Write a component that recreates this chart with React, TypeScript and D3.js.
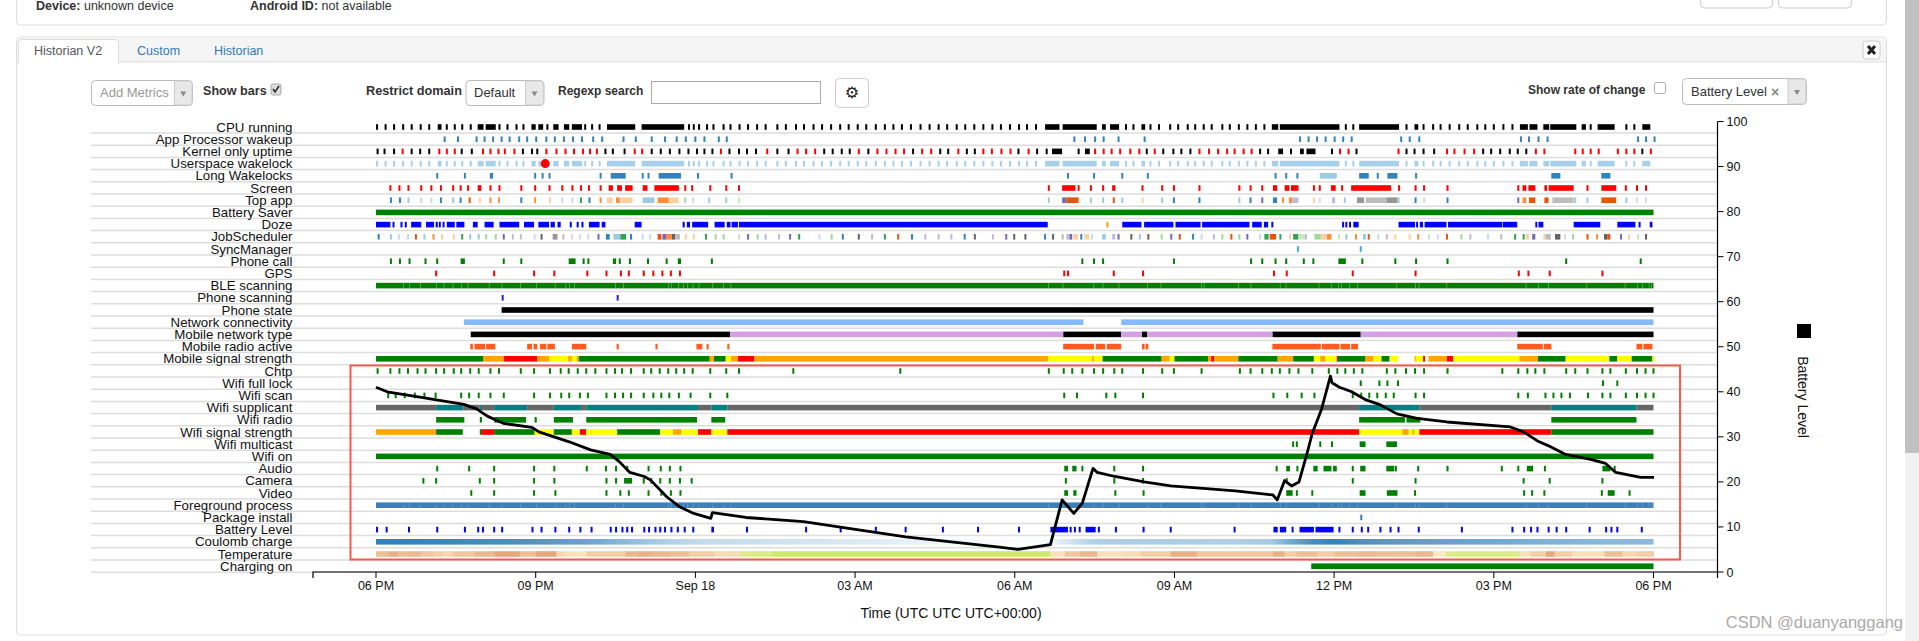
import React from "react";
import * as d3 from "d3";

type Span = [number, number];
type Mixed = [number, string] | [number, number, string];

const rowNames = ["CPU running","App Processor wakeup","Kernel only uptime","Userspace wakelock","Long Wakelocks","Screen","Top app","Battery Saver","Doze","JobScheduler","SyncManager","Phone call","GPS","BLE scanning","Phone scanning","Phone state","Network connectivity","Mobile network type","Mobile radio active","Mobile signal strength","Chtp","Wifi full lock","Wifi scan","Wifi supplicant","Wifi radio","Wifi signal strength","Wifi multicast","Wifi on","Audio","Camera","Video","Foreground process","Package install","Battery Level","Coulomb charge","Temperature","Charging on"];

const axisHours = [0,3,6,9,12,15,18,21,24];
const axisLabels = ["06 PM","09 PM","Sep 18","03 AM","06 AM","09 AM","12 PM","03 PM","06 PM"];
const batteryTicks = [0,10,20,30,40,50,60,70,80,90,100];

const batteryLevel: [number, number][] = [[0,41],[.21,40],[.88,38.7],[1.65,37.2],[1.89,36.2],[2.09,34.6],[2.39,33],[2.93,32.1],[3.06,31.1],[3.63,28.9],[4.03,27.1],[4.4,26.1],[4.57,24.5],[4.77,22.1],[5.04,21.2],[5.16,20.4],[5.46,16.7],[5.7,14.5],[5.97,13],[6.29,11.9],[6.32,13.2],[6.95,12.1],[8.03,11.2],[9.95,7.8],[11.71,5.5],[12.06,5],[12.67,6.1],[12.89,16],[13.11,13],[13.27,15.3],[13.47,23],[13.55,22.1],[13.88,21.2],[14.43,20],[14.93,19.1],[16.14,18],[16.85,17.1],[16.93,16],[17.07,20.3],[17.2,19.1],[17.34,20],[17.49,26.3],[17.59,30.8],[17.76,36],[17.93,43.5],[17.96,42],[18.1,41],[18.33,40],[18.6,38.2],[18.87,37.1],[19.18,35.1],[19.56,34.1],[20.12,33.3],[21.31,32.2],[21.56,31.1],[21.82,29.1],[22.03,28],[22.35,26.1],[22.82,25],[23.1,24.1],[23.29,22.1],[23.76,21],[24.01,21]];

const cpuTicks = [.02,.18,.34,.51,.67,.84,1,1.33,1.48,1.62,1.78,2.32,2.47,2.64,2.77,3.22,3.93,4.06,4.2,5.88,5.97,6.07,6.22,6.34,6.53,6.66,6.83,6.99,7.16,7.32,7.54,7.7,7.89,8.04,8.22,8.38,8.55,8.72,8.88,9.05,9.21,9.39,9.56,9.72,9.88,10.05,10.23,10.4,10.57,10.73,10.91,11.07,11.24,11.41,11.58,11.74,11.91,12.08,12.23,12.4,14.09,14.23,14.55,14.71,14.92,15.07,15.25,15.39,15.55,15.7,15.9,16.04,16.21,16.37,16.53,16.69,18.22,18.36,19.36,19.68,19.86,20,20.17,20.35,20.51,20.69,20.84,21,21.18,21.35,22.82,23.49,23.64];
const cpuBars: Span[] = [[1.16,1.23],[1.91,2.02],[2.06,2.25],[2.92,3],[3.05,3.14],[3.33,3.43],[3.53,3.63],[3.68,3.87],[4.34,4.87],[4.99,5.79],[12.57,12.84],[12.9,13.54],[13.64,13.71],[13.79,13.96],[14.38,14.45],[16.83,16.95],[16.98,18.1],[18.47,19.22],[19.51,19.58],[21.49,21.64],[21.67,21.82],[21.93,22.04],[22.06,22.55],[22.65,22.73],[22.95,23.27],[23.79,23.94]];

const appWakeup = [1.29,1.54,1.89,2.04,2.2,2.36,2.51,2.69,2.84,3.01,3.2,3.36,3.53,3.7,3.87,4.08,4.25,4.65,4.88,5.18,5.43,5.65,5.82,6,6.17,6.44,6.59,13.12,13.32,13.51,13.67,13.95,14.44,17.36,17.52,17.68,17.84,18.01,18.17,18.33,19.26,19.42,19.6,21.51,21.66,21.84,22.01,23.71,23.86,24.02];

const kernelBlack = [.03,.16,.34,.67,.83,1,1.61,1.8,2.76,2.93,3.03,4.31,4.45,4.67,5.18,5.35,5.52,5.7,5.87,6.03,6.17,6.32,6.64,6.82,6.97,7.14,7.54,7.75,8.42,8.58,8.75,8.9,9.25,10.09,10.6,10.75,11.1,11.25,12.07,12.42,12.6,13.2,14.48,14.79,14.98,15.13,15.3,16.61,16.76,17.19,17.96,18.42,19.36,19.51,19.68,19.88,20.8,20.95,21.12,21.3,21.45,21.61,23.79];
const kernelBlackBars: Span[] = [[12.7,12.89],[13.32,13.41],[16.95,17.04],[17.36,17.43],[17.48,17.65]];
const kernelRed = [.5,1.19,1.33,1.48,2.01,2.15,2.3,2.42,2.6,3.2,3.39,3.56,3.72,3.89,4.02,4.15,4.86,5,6.48,7.35,7.92,8.08,8.25,9.07,9.42,9.59,9.76,9.92,10.26,10.43,10.94,11.41,11.57,11.75,11.92,12.26,13.51,13.67,13.82,13.98,14.17,14.34,14.63,15.47,15.65,15.82,15.99,16.13,16.3,16.45,18.11,18.27,19.21,20.12,20.26,20.45,20.63,21.79,21.95,22.53,22.67,22.82,22.97,23.33,23.49,23.64,23.95];

const wakelockDotHour = 3.18;

const longWakeTicks = [1.15,1.67,2.99,3.13,3.26,4.22,5.01,5.12,6.05,6.68,13,13.49,14.02,14.5,16.9,17.1,17.31,18.82,19.54];
const longWakeBars: Span[] = [[2.14,2.2],[4.41,4.69],[5.31,5.73],[18.47,18.65],[19,19.19],[22.08,22.25],[23.02,23.19]];
const longWakePale: Span[] = [[17.73,18.05]];

const screenTicks = [.27,.44,.61,.85,1.04,1.22,1.45,1.59,1.73,2.15,2.32,2.73,2.99,3.26,3.5,3.69,3.85,4,4.22,5.81,5.94,6.28,6.58,6.82,12.64,13.2,13.43,13.66,14.4,14.77,14.99,15.47,16.22,16.43,16.65,17.62,17.73,18.15,19.22,19.53,19.69,20.13,21.46,22.76,23.48,23.69,23.86];
const screenBars: Span[] = [[1.91,1.98],[4.37,4.45],[4.53,4.62],[4.68,4.82],[5.01,5.1],[5.23,5.69],[12.89,13.14],[13.83,13.89],[16.85,16.93],[17.07,17.16],[17.19,17.33],[17.94,18.03],[18.32,19.07],[21.54,21.61],[21.65,21.78],[21.95,22],[22.03,22.5],[23.02,23.3]];

const palette: Record<string,string> = {b:"#3182bd",lb:"#9ecae1",pb:"#c6dbef",o:"#e6550d",lo:"#fd8d3c",pe:"#fdd0a2",g:"#31a354",lg:"#a1d99b",pg:"#c7e9c0",p:"#756bb1",lp:"#bcbddc",pp:"#dadaeb",gr:"#636363",mg:"#969696",lgr:"#bdbdbd"};

const topApp: Mixed[] = [[.28,"b"],[.45,"b"],[.61,"lb"],[.85,"pb"],[1.04,"pb"],[1.22,"b"],[1.45,"lb"],[1.59,"b"],[1.76,"o"],[1.95,"pe"],[2.15,"lo"],[2.31,"lo"],[2.73,"b"],[2.99,"lo"],[3.27,"pe"],[3.5,"pb"],[3.69,"pb"],[3.85,"g"],[4.01,"b"],[4.22,"lo"],[4.34,4.45,"pe"],[4.51,4.58,"lo"],[4.58,4.82,"pe"],[5.01,5.23,"lb"],[5.29,5.5,"lo"],[5.5,5.69,"pe"],[5.81,"lg"],[5.96,"pb"],[6.26,"lb"],[6.58,"lb"],[6.82,"pg"],[12.64,"lb"],[12.89,12.97,"p"],[12.97,13.2,"o"],[13.43,"lb"],[13.66,"lb"],[13.86,"o"],[14.02,"lb"],[14.4,"pe"],[14.77,"lb"],[14.99,"b"],[15.47,"b"],[16.22,"lb"],[16.43,"b"],[16.65,"p"],[16.85,16.93,"b"],[17.04,"lo"],[17.15,17.22,"lo"],[17.22,17.33,"lp"],[17.62,"pe"],[17.73,"pp"],[17.96,18.02,"lp"],[18.2,"lb"],[18.43,18.56,"mg"],[18.59,18.99,"lgr"],[18.99,19.19,"mg"],[19.21,"lb"],[19.53,"b"],[19.69,"pg"],[20.13,"b"],[21.46,"p"],[21.54,21.61,"lo"],[21.66,21.78,"o"],[21.95,22.03,"o"],[22.1,22.5,"lgr"],[22.53,"lb"],[22.76,"lb"],[23.02,23.3,"o"],[23.49,"lb"],[23.69,"pp"],[23.86,"pp"]];

const saverBars: Span[] = [[0,24]];
const dozeBars: Span[] = [[0,.27],[.31,.33],[.46,.48],[.54,.56],[.66,.85],[.94,1.09],[1.12,1.16],[1.18,1.2],[1.25,1.27],[1.33,1.48],[1.51,1.66],[1.82,1.91],[2.04,2.21],[2.32,2.69],[2.78,2.97],[3.05,3.25],[3.28,3.36],[3.41,3.47],[3.64,3.66],[3.77,3.79],[3.86,3.88],[4,4.2],[4.24,4.31],[4.86,4.99],[5.76,5.8],[5.84,5.9],[5.94,6.24],[6.36,6.55],[6.59,6.66],[6.68,6.8],[6.82,12.62],[14.02,14.38],[14.43,14.98],[15.02,15.49],[15.52,16.41],[16.46,16.64],[16.68,16.76],[16.82,16.84],[18.15,18.17],[18.21,18.23],[18.28,18.3],[18.36,18.46],[19.21,19.52],[19.54,19.56],[19.61,19.67],[19.7,20.11],[20.14,21.16],[21.17,21.44],[21.78,21.8],[21.84,21.93],[22.5,23],[23.32,23.66],[23.72,23.74],[23.93,23.98]];
const dozeOrange = [13.74];

const jobScheduler: Mixed[] = [[.05,"b"],[.28,"lb"],[.43,"pb"],[.6,"pb"],[.75,"o"],[.91,"lb"],[1.08,"lo"],[1.24,"pe"],[1.46,"pe"],[1.62,"g"],[1.77,"lb"],[1.93,"lb"],[2.07,"lg"],[2.25,"lg"],[2.4,"p"],[2.57,"lp"],[2.72,"lp"],[2.98,"pp"],[3.11,"gr"],[3.32,3.41,"mg"],[3.52,"lgr"],[3.68,"pp"],[3.83,"pp"],[3.99,"pb"],[4.18,"p"],[4.32,4.39,"b"],[4.46,4.59,"lb"],[4.59,4.7,"g"],[4.79,"b"],[5.01,"pb"],[5.15,"pb"],[5.29,5.36,"o"],[5.38,5.46,"p"],[5.46,5.56,"lo"],[5.56,5.62,"gr"],[5.62,5.71,"lgr"],[5.82,"pe"],[5.97,"pe"],[6.2,"g"],[6.38,"lg"],[6.53,"lg"],[6.82,"pg"],[6.99,"p"],[7.17,"lg"],[7.32,"lp"],[7.57,"lp"],[7.78,"p"],[7.95,"g"],[8.33,"pp"],[8.56,"lg"],[8.77,"b"],[9.07,"gr"],[9.32,"lp"],[9.56,"g"],[9.81,"o"],[10.07,"b"],[10.32,"lp"],[10.57,"lp"],[10.81,"lp"],[11.06,"b"],[11.25,"gr"],[11.59,"lp"],[11.84,"p"],[11.99,"gr"],[12.2,"gr"],[12.57,"b"],[12.72,"gr"],[12.9,"lgr"],[12.97,13.03,"lp"],[13.03,13.08,"p"],[13.1,13.19,"pe"],[13.25,"b"],[13.31,13.4,"pe"],[13.45,"pb"],[13.64,13.71,"lb"],[13.83,13.89,"lp"],[13.95,"p"],[14.19,"gr"],[14.35,"lb"],[14.51,"gr"],[14.76,"lg"],[14.94,"p"],[15.1,"o"],[15.35,"b"],[15.51,"pb"],[15.74,"lp"],[15.9,"lg"],[16.07,"o"],[16.22,"lg"],[16.37,"p"],[16.61,"pb"],[16.69,16.77,"g"],[16.79,16.91,"o"],[16.99,"g"],[17.17,"pe"],[17.23,17.33,"g"],[17.33,17.45,"pg"],[17.47,"lp"],[17.63,17.75,"lg"],[17.75,17.85,"pe"],[17.86,17.95,"lo"],[18.09,"pg"],[18.23,"lb"],[18.41,"lo"],[18.54,18.6,"lb"],[18.65,"o"],[18.83,"pb"],[18.99,"lp"],[19.15,"pe"],[19.42,"pe"],[19.58,"lo"],[19.78,"pg"],[19.95,"pp"],[20.12,"o"],[20.39,"lg"],[20.56,"lp"],[20.89,"pb"],[21.14,"lgr"],[21.4,"g"],[21.56,"g"],[21.6,21.66,"pe"],[21.72,21.78,"p"],[21.95,"pe"],[21.97,22.07,"lgr"],[22.15,22.25,"gr"],[22.34,"pp"],[22.49,"lg"],[22.76,"o"],[22.94,"lo"],[23.07,23.13,"gr"],[23.13,23.19,"o"],[23.39,"p"],[23.54,"pe"],[23.71,"pg"],[23.86,"gr"]];

const syncManager = [17.32,18.5];
const phoneCallTicks = [.28,.45,.63,.93,1.15,2.4,2.73,3.9,3.99,4.58,4.77,5.11,5.46,6.31,13.27,13.49,13.66,14.99,16.44,16.65,16.9,17.1,17.43,17.61,18.53,19.15,19.54,20.13,22.36,23.76];
const phoneCallBars: Span[] = [[1.59,1.67],[3.62,3.75],[4.45,4.51],[5.67,5.73],[18.08,18.22]];
const gpsTicks = [1.13,2.22,2.97,3.35,3.97,4.33,4.6,4.75,5.03,5.21,5.38,5.54,5.71,12.93,13,13.86,14.41,16.87,17.11,18.35,19.53,21.47,21.65,22.05,23.04];
const fullDay: Span[] = [[0,24]];
const bleGaps = [.51,.62,.83,1.13,1.27,1.44,1.6,1.72,2.12,2.36,2.71,3.01,3.36,3.56,3.63,3.72,4.49,4.64,5.49,5.54,5.68,5.77,5.85,5.95,6.06,6.32,6.52,6.66,12.63,12.9,13.48,13.65,13.95,14.49,14.74,15.5,15.55,16.2,16.43,16.98,17.09,17.71,17.94,18.08,18.13,18.28,18.43,19.17,19.52,19.59,20.11,21.6,21.83,22.02,22.74,23.46,23.69,23.79,23.91,23.96];
const phoneScanning = [2.38,4.54];
const phoneStateBars: Span[] = [[2.36,24]];
const connectivityBars: Span[] = [[1.65,13.29],[14,24]];
const networkBlack: Span[] = [[1.78,6.65],[12.91,14],[14.39,14.49],[16.84,18.5],[21.44,24]];
const networkPurple: Span[] = [[6.65,12.91],[14,14.39],[14.49,16.84],[18.5,21.44]];
const radioBars: Span[] = [[1.77,1.82],[1.85,2.05],[2.07,2.24],[2.84,2.93],[2.96,3.03],[3.08,3.2],[3.22,3.36],[3.68,3.95],[4.52,4.56],[5.25,5.29],[6.02,6.13],[6.21,6.25],[6.6,6.64],[12.91,13.49],[13.52,13.7],[13.73,14],[14.39,14.44],[14.46,14.51],[16.84,17.75],[17.77,18.1],[18.12,18.3],[18.32,18.45],[21.44,21.92],[21.94,22.08],[23.68,23.79],[23.81,23.98]];

const signalColor: Record<string,string> = {g:"#008000",o:"#ffa500",r:"#ff0000",y:"#ffff00"};
const mobileSignal: Mixed[] = [[0,2.02,"g"],[2.02,2.4,"o"],[2.4,3.03,"r"],[3.03,3.25,"o"],[3.25,3.61,"y"],[3.61,3.68,"o"],[3.68,3.77,"y"],[3.77,3.81,"o"],[3.81,6.27,"g"],[6.27,6.35,"o"],[6.35,6.57,"g"],[6.57,6.67,"y"],[6.67,6.8,"o"],[6.8,7.11,"r"],[7.11,12.63,"o"],[12.63,13.45,"y"],[13.45,13.48,"o"],[13.48,13.65,"y"],[13.65,14.76,"g"],[14.76,14.91,"o"],[14.91,15,"y"],[15,15.63,"g"],[15.63,15.69,"o"],[15.69,15.75,"r"],[15.75,16.2,"o"],[16.2,16.94,"g"],[16.94,17.23,"o"],[17.23,17.62,"g"],[17.62,17.74,"y"],[17.74,17.83,"o"],[17.83,18.05,"y"],[18.05,18.07,"r"],[18.07,18.59,"g"],[18.59,18.74,"o"],[18.74,18.89,"y"],[18.89,19.04,"g"],[19.06,19.2,"y"],[19.51,19.53,"o"],[19.53,19.67,"y"],[19.67,19.7,"r"],[19.77,20.12,"o"],[20.12,20.24,"r"],[20.24,21.48,"y"],[21.48,21.83,"o"],[21.83,22.35,"g"],[22.35,23.17,"y"],[23.17,23.32,"g"],[23.32,23.59,"y"],[23.59,23.98,"g"],[23.98,24,"y"]];

const chtp = [.03,.27,.44,.6,.78,.93,1.13,1.28,1.46,1.6,1.77,1.93,2.15,2.31,2.72,2.97,3.27,3.47,3.62,3.79,3.95,4.12,4.33,4.49,4.62,4.79,5.03,5.17,5.33,5.49,5.64,5.79,5.95,6.28,6.58,6.82,7.84,9.85,12.64,12.92,13.08,13.27,13.49,13.66,13.87,14.02,14.41,14.77,14.99,15.51,16.23,16.43,16.65,16.83,16.98,17.16,17.33,17.59,17.9,18.06,18.21,18.37,18.53,18.99,19.15,19.35,19.52,19.69,20.13,21.16,21.46,21.63,21.78,21.95,22.36,22.53,22.76,23.04,23.19,23.48,23.69,23.85,24];
const wifiFullLock = [18.5,18.85,19,19.2,23.05,23.32];
const wifiScan = [.23,.37,.54,.73,.91,1.12,1.6,1.75,1.93,2.15,2.4,2.97,3.27,3.48,3.63,3.83,3.98,4.33,4.49,4.64,4.79,5.03,5.21,5.36,5.51,5.69,5.91,6.28,6.6,12.93,13.17,13.72,13.89,14.41,16.86,17.12,17.39,17.63,18.35,18.51,18.66,18.81,18.97,19.12,19.53,19.69,21.46,21.64,21.97,22.12,22.27,22.43,22.77,23.04,23.19,23.48,23.69,23.85,24];
const supplicantTeal: Span[] = [[1.13,1.64],[1.95,1.99],[2.22,2.84],[3.34,3.85],[3.95,6.05],[6.3,6.6],[18.47,19.6],[22.08,23.68]];
const supplicantGrey: Span[] = [[0,1.13],[1.64,1.95],[1.99,2.22],[2.84,3.34],[3.85,3.95],[6.05,6.3],[6.6,18.47],[19.6,22.08],[23.68,24]];
const wifiRadioBars: Span[] = [[1.13,1.66],[1.95,1.99],[2.22,2.82],[2.98,3.02],[3.34,3.7],[3.95,6.03],[6.3,6.56],[18.47,19.33],[19.36,19.62],[22.08,23.68]];
const wifiSignal: Mixed[] = [[0,1.13,"o"],[1.13,1.63,"g"],[1.95,1.98,"g"],[1.98,2.22,"r"],[2.22,2.98,"g"],[2.98,3.34,"y"],[3.34,3.68,"g"],[3.68,3.83,"y"],[3.83,3.95,"r"],[3.95,4.53,"y"],[4.53,5.34,"g"],[5.34,5.58,"y"],[5.58,5.74,"o"],[5.74,6.05,"y"],[6.05,6.3,"r"],[6.3,6.6,"y"],[6.6,18.47,"r"],[18.47,19.28,"y"],[19.28,19.4,"o"],[19.4,19.47,"y"],[19.47,19.5,"o"],[19.5,19.59,"y"],[19.6,22.08,"r"],[22.08,24,"g"]];
const multicastTicks = [17.23,17.3,17.74,17.96];
const multicastBars: Span[] = [[18.48,18.59],[18.98,19.18]];
const audioTicks = [1.15,1.75,2.22,2.97,3.35,3.96,4.32,4.51,4.72,5.12,5.35,5.52,5.72,13.27,13.87,14.41,16.92,17.31,18.35,19.16,19.58,20.13,21.15,21.46,21.96,23.27];
const audioBars: Span[] = [[12.93,13],[13.08,13.16],[17.1,17.17],[17.61,17.69],[17.8,17.95],[17.98,18.05],[18.49,18.59],[18.98,19.13],[21.62,21.74],[23.04,23.19]];
const cameraTicks = [.89,1.13,1.95,2.22,2.97,3.35,4.33,4.51,5.03,5.17,5.34,5.52,5.71,5.93,12.96,13.87,14.41,17.11,18.35,19.53,21.56,22.05,23.04];
const cameraBars: Span[] = [[4.66,4.81]];
const videoTicks = [1.79,2.22,2.97,3.37,4.33,4.59,4.75,5.12,5.36,5.54,5.72,13.89,14.42,17.3,17.59,19.52,21.57,21.72,21.95,23.03,23.55];
const videoBars: Span[] = [[12.93,13],[13.1,13.16],[17.1,17.22],[18.48,18.59],[18.99,19.19],[23.14,23.27]];
const packageInstall = [18.51];
const batteryTicksRow = [.02,.2,.62,1.15,1.67,1.92,2.01,2.22,2.37,2.94,3.11,3.37,3.63,3.84,4.05,4.41,4.51,4.63,4.72,4.81,5.04,5.13,5.25,5.34,5.43,5.55,5.67,5.8,5.96,6.97,8.08,8.73,9.39,9.95,10.65,11.31,12.08,13.05,13.13,13.22,13.58,13.9,14.42,14.93,16.13,17.22,18.1,18.35,18.52,18.64,18.87,19.06,19.21,19.59,20.4,21.35,21.57,21.7,21.82,22.03,22.18,22.36,22.8,23.11,23.21,23.32,23.78];
const batteryBarsRow: Span[] = [[6.3,6.35],[12.67,13],[13.33,13.52],[16.86,16.94],[16.98,17.1],[17.35,17.62],[17.65,17.99]];

const coulomb: [number, number][] = [[0,100],[1,98],[2,92],[3,85],[4,72],[4.5,60],[5,48],[5.5,38],[6,30],[7,26],[8,22],[9,18],[10,12],[11,6],[12,2],[12.5,2],[13,20],[13.5,38],[14,40],[15,40],[16,38],[16.8,42],[17.2,70],[17.6,90],[18,100],[18.5,88],[19,82],[20,75],[21,70],[22,62],[23,58],[24,55]];
const temperature: [number, number, number][] = [[0,.24,27],[.24,.42,28],[.42,.6,27],[.6,.84,27.5],[.84,1.08,26.5],[1.08,1.26,26],[1.26,1.44,25],[1.44,1.86,26.5],[1.86,2.22,27.5],[2.22,2.7,28.5],[2.7,3,27],[3,3.39,28.5],[3.39,3.54,25],[3.54,3.72,24],[3.72,3.96,23.5],[3.96,4.68,26],[4.68,4.92,27.5],[4.92,5.16,28],[5.16,5.52,27.5],[5.52,5.88,27],[5.88,6.36,26],[6.36,6.84,24.5],[6.84,7.44,21],[7.44,12.67,20],[12.67,12.94,24],[12.94,13.22,26.5],[13.22,13.55,27.5],[13.55,14.04,24],[14.04,14.37,24.5],[14.37,14.93,26],[14.93,15.42,28],[15.42,16.85,26.5],[16.85,17.07,28],[17.07,17.29,26],[17.29,17.68,27],[17.68,18.01,26],[18.01,18.45,27],[18.45,18.78,27.5],[18.78,19.55,27],[19.55,19.86,27.5],[19.86,20.1,23],[20.1,21.48,21],[21.48,21.7,24],[21.7,21.98,26],[21.98,22.14,28.5],[22.14,22.47,26],[22.47,23.08,24],[23.08,23.41,27],[23.41,23.68,25],[23.68,24,26]];
const chargingBars: Span[] = [[17.57,24]];

const FONT = "'Liberation Sans', Arial, sans-serif";
const x = d3.scaleLinear().domain([0, 24]).range([376, 1653.5]);
const y = d3.scaleLinear().domain([0, 100]).range([572, 121.5]);
const rowY = d3.scaleLinear().domain([0, 36]).range([127, 566.2]);
const coulombColor = d3.scaleLinear<string>().domain([0, 100]).range(["#ffffff", "#3182bd"]);
const tempColor = d3.scaleLinear<string>().domain([20, 21, 23, 26, 28.5]).range(["#cde96c", "#dcec88", "#fde8c4", "#f3cfa8", "#e4a87c"]);
const batteryPath = d3.line<[number, number]>().x((d) => x(d[0])).y((d) => y(d[1]))(batteryLevel) as string;

const BAR_H = 5.6;
function Ticks({ row, hours, color }: { row: number; hours: number[]; color: string }) {
  return <>{hours.map((h, i) => <rect key={i} x={x(h) - 1} y={rowY(row) - BAR_H / 2} width={2} height={BAR_H} fill={color} />)}</>;
}
function Bars({ row, spans, color }: { row: number; spans: Span[]; color: string }) {
  return <>{spans.map((s, i) => <rect key={i} x={x(s[0])} y={rowY(row) - BAR_H / 2} width={Math.max(2, x(s[1]) - x(s[0]))} height={BAR_H} fill={color} />)}</>;
}
function MixedRow({ row, items, colors }: { row: number; items: Mixed[]; colors: Record<string,string> }) {
  return <>{items.map((it, i) => {
    if (it.length === 2) return <rect key={i} x={x(it[0]) - 1} y={rowY(row) - BAR_H / 2} width={2} height={BAR_H} fill={colors[it[1]]} />;
    return <rect key={i} x={x(it[0])} y={rowY(row) - BAR_H / 2} width={Math.max(2, x(it[1]) - x(it[0]))} height={BAR_H} fill={colors[it[2]]} />;
  })}</>;
}
const T = (p: any) => <text fontFamily={FONT} fontSize={13} fill="#333" {...p} />;

function SelectBox({ x0, x1, div, y0, y1 }: { x0: number; x1: number; div: number; y0: number; y1: number }) {
  const cx = (div + x1) / 2, cy = (y0 + y1) / 2;
  return <g>
    <rect x={x0 + .5} y={y0 + .5} width={x1 - x0} height={y1 - y0} rx={4} fill="#fff" stroke="#bbb" />
    <path d={`M${div} ${y0 + 1}H${x1 - 3}Q${x1} ${y0 + 1} ${x1} ${y0 + 4}V${y1 - 3}Q${x1} ${y1} ${x1 - 3} ${y1}H${div}Z`} fill="#e8e8e8" stroke="#ccc" />
    <path d={`M${cx - 3} ${cy - 1}h6l-3 5z`} fill="#888" />
  </g>;
}

export default function App() {
  return (
    <svg width={1919} height={641} style={{ position: "fixed", left: 0, top: 0, background: "#fff" }} xmlns="http://www.w3.org/2000/svg">
      <defs>
        <linearGradient id="coulombGrad" gradientUnits="userSpaceOnUse" x1={x(0)} x2={x(24)} y1={0} y2={0}>
          {coulomb.map((d) => <stop key={d[0]} offset={d[0] / 24} stopColor={coulombColor(d[1])} />)}
        </linearGradient>
      </defs>
      {/* page frame */}
      <rect x={16.5} y={-12} width={1870} height={37} rx={4} fill="#fff" stroke="#ddd" />
      <rect x={1700.5} y={-12} width={72} height={20} rx={4} fill="#fff" stroke="#ccc" />
      <rect x={1778.5} y={-12} width={73} height={20} rx={4} fill="#fff" stroke="#ccc" />
      <T x={36} y={10} fontWeight="bold" fontSize={12.5}>Device:<tspan fontWeight="normal"> unknown device</tspan></T>
      <T x={250} y={10} fontWeight="bold" fontSize={12.5}>Android ID:<tspan fontWeight="normal"> not available</tspan></T>

      <rect x={16.5} y={37} width={1870} height={598} rx={4} fill="#fff" stroke="#ddd" />
      <path d="M17 62V41Q17 37.5 20 37.5H1883Q1886 37.5 1886 41V62Z" fill="#f5f5f5" />
      <line x1={17} x2={1886} y1={62} y2={62} stroke="#ddd" />
      <path d="M18.5 63V43Q18.5 39.5 22 39.5H115Q118.5 39.5 118.5 43V63Z" fill="#fff" stroke="#ddd" />
      <rect x={19} y={61} width={99} height={3} fill="#fff" />
      <T x={34} y={55} fontSize={12.5} fill="#555">Historian V2</T>
      <T x={137} y={55} fontSize={12.5} fill="#337ab7">Custom</T>
      <T x={214} y={55} fontSize={12.5} fill="#337ab7">Historian</T>
      <rect x={1863} y={41} width={17} height={18} rx={3} fill="#fff" stroke="#ccc" />
      <path d="M1868 46L1875 54M1875 46L1868 54" stroke="#222" strokeWidth={3} />

      {/* controls */}
      <SelectBox x0={91} x1={192} div={174.5} y0={80} y1={105} />
      <T x={100} y={97} fill="#999">Add Metrics</T>
      <T x={203} y={95} fontWeight="bold" fontSize={12.6}>Show bars</T>
      <rect x={271} y={84} width={10} height={11} rx={2} fill="#ddd" stroke="#aaa" />
      <path d="M273 89l2 3l4 -6" fill="none" stroke="#222" strokeWidth={1.5} />
      <T x={366} y={95} fontWeight="bold" fontSize={12.7}>Restrict domain</T>
      <SelectBox x0={465.5} x1={543.5} div={525.5} y0={80} y1={105} />
      <T x={474} y={97}>Default</T>
      <T x={558} y={95} fontWeight="bold" fontSize={12}>Regexp search</T>
      <rect x={651.5} y={81.5} width={169} height={22} fill="#fff" stroke="#aaa" />
      <rect x={835.5} y={78.5} width={33} height={29} rx={4} fill="#fff" stroke="#ccc" />
      <text x={852} y={98} textAnchor="middle" fontFamily="'DejaVu Sans'" fontSize={16} fill="#222">⚙</text>
      <T x={1528} y={94} fontWeight="bold" fontSize={12}>Show rate of change</T>
      <rect x={1654.5} y={82.5} width={11} height={11} rx={2} fill="#fff" stroke="#aaa" />
      <SelectBox x0={1682} x1={1806} div={1788} y0={78} y1={104} />
      <T x={1691} y={96} fontSize={13}>Battery Level</T>
      <T x={1771} y={97} fontSize={14} fontWeight="bold" fill="#888">×</T>

      {/* row labels and separators */}
      {rowNames.map((name, i) => (
        <g key={name}>
          <line x1={91} x2={1717} y1={rowY(i) + 6} y2={rowY(i) + 6} stroke="#ddd" strokeWidth={1.5} />
          <text x={292.5} y={rowY(i) + 4.5} textAnchor="end" fontFamily={FONT} fontSize={13.3} fill="#111">{name}</text>
        </g>
      ))}

      {/* rows */}
      <Ticks row={0} hours={cpuTicks} color="#000" /><Bars row={0} spans={cpuBars} color="#000" />
      <Ticks row={1} hours={appWakeup} color="#3182bd" />
      <Ticks row={2} hours={kernelBlack} color="#000" /><Bars row={2} spans={kernelBlackBars} color="#000" /><Ticks row={2} hours={kernelRed} color="#f00" />
      <Ticks row={3} hours={cpuTicks} color="#a6d0ec" /><Bars row={3} spans={cpuBars} color="#a6d0ec" />
      <circle cx={x(wakelockDotHour)} cy={rowY(3)} r={4.5} fill="#f00" />
      <Ticks row={4} hours={longWakeTicks} color="#3182bd" /><Bars row={4} spans={longWakeBars} color="#3182bd" /><Bars row={4} spans={longWakePale} color="#9ecae1" />
      <Ticks row={5} hours={screenTicks} color="#f00" /><Bars row={5} spans={screenBars} color="#f00" />
      <MixedRow row={6} items={topApp} colors={palette} />
      <Bars row={7} spans={saverBars} color="#008000" />
      <Bars row={8} spans={dozeBars} color="#0000ff" /><Ticks row={8} hours={dozeOrange} color="#ffa500" />
      <MixedRow row={9} items={jobScheduler} colors={palette} />
      <Ticks row={10} hours={syncManager} color="#42a5f5" />
      <Ticks row={11} hours={phoneCallTicks} color="#008000" /><Bars row={11} spans={phoneCallBars} color="#008000" />
      <Ticks row={12} hours={gpsTicks} color="#f00" />
      <Bars row={13} spans={fullDay} color="#008000" />
      {bleGaps.map((h, i) => <rect key={i} x={x(h)} y={rowY(13) - BAR_H / 2} width={.7} height={BAR_H} fill="#fff" opacity={.4} />)}
      <Ticks row={14} hours={phoneScanning} color="#2222cc" />
      <Bars row={15} spans={phoneStateBars} color="#000" />
      <Bars row={16} spans={connectivityBars} color="#85bbfa" />
      <Bars row={17} spans={networkBlack} color="#000" /><Bars row={17} spans={networkPurple} color="#d4a0e4" />
      <Bars row={18} spans={radioBars} color="#ff5a1f" />
      <MixedRow row={19} items={mobileSignal} colors={signalColor} />
      <Ticks row={20} hours={chtp} color="#008000" />
      <Ticks row={21} hours={wifiFullLock} color="#008000" />
      <Ticks row={22} hours={wifiScan} color="#008000" />
      <Bars row={23} spans={supplicantGrey} color="#666" /><Bars row={23} spans={supplicantTeal} color="#008080" />
      <Bars row={24} spans={wifiRadioBars} color="#008000" />
      <MixedRow row={25} items={wifiSignal} colors={signalColor} />
      <Ticks row={26} hours={multicastTicks} color="#008000" /><Bars row={26} spans={multicastBars} color="#008000" />
      <Bars row={27} spans={fullDay} color="#008000" />
      <Ticks row={28} hours={audioTicks} color="#008000" /><Bars row={28} spans={audioBars} color="#008000" />
      <Ticks row={29} hours={cameraTicks} color="#008000" /><Bars row={29} spans={cameraBars} color="#008000" />
      <Ticks row={30} hours={videoTicks} color="#008000" /><Bars row={30} spans={videoBars} color="#008000" />
      <Bars row={31} spans={fullDay} color="#3a80bd" />
      {bleGaps.map((h, i) => <rect key={i} x={x(h)} y={rowY(31) - BAR_H / 2} width={.7} height={BAR_H} fill="#fff" opacity={.25} />)}
      <Ticks row={32} hours={packageInstall} color="#3182bd" />
      <Ticks row={33} hours={batteryTicksRow} color="#0000ff" /><Bars row={33} spans={batteryBarsRow} color="#0000ff" />
      <Bars row={34} spans={fullDay} color="url(#coulombGrad)" />
      {temperature.map((d, i) => <rect key={i} x={x(d[0])} y={rowY(35) - BAR_H / 2} width={x(d[1]) - x(d[0]) + .5} height={BAR_H} fill={tempColor(d[2])} />)}
      <Bars row={36} spans={chargingBars} color="#008000" />

      {/* bottom axis */}
      <path d="M313 578V572H1717.5V578" fill="none" stroke="#000" strokeWidth={1.2} />
      {axisHours.map((h, i) => (
        <g key={h}>
          <line x1={x(h)} x2={x(h)} y1={572} y2={578} stroke="#000" />
          <text x={x(h)} y={590} textAnchor="middle" fontFamily={FONT} fontSize={12.5} fill="#111">{axisLabels[i]}</text>
        </g>
      ))}
      <text x={951} y={618} textAnchor="middle" fontFamily={FONT} fontSize={14} fill="#111">Time (UTC UTC UTC+00:00)</text>

      {/* battery axis */}
      <line x1={1717.5} x2={1717.5} y1={y(100)} y2={y(0)} stroke="#000" strokeWidth={1.2} />
      {batteryTicks.map((t) => (
        <g key={t}>
          <line x1={1717.5} x2={1723.5} y1={y(t)} y2={y(t)} stroke="#000" />
          <text x={1726.5} y={y(t) + 4.5} fontFamily={FONT} fontSize={12.5} fill="#111">{t}</text>
        </g>
      ))}
      <rect x={1797} y={324} width={14} height={14} fill="#000" />
      <text transform={`translate(1798,397) rotate(90)`} textAnchor="middle" fontFamily={FONT} fontSize={14} fill="#111">Battery Level</text>

      {/* annotation and series line */}
      <rect x={350.5} y={365.5} width={1329.5} height={194} fill="none" stroke="#f8594c" strokeWidth={2} />
      <path d={batteryPath} fill="none" stroke="#000" strokeWidth={2.8} strokeLinejoin="round" />

      {/* scrollbar and watermark */}
      <rect x={1905} y={0} width={14} height={641} fill="#f1f1f1" />
      <rect x={1905} y={0} width={14} height={453} fill="#c1c1c1" />
      <text x={1903} y={628} textAnchor="end" fontFamily={FONT} fontSize={16.5} fill="#aaa">CSDN @duanyanggang</text>
    </svg>
  );
}
